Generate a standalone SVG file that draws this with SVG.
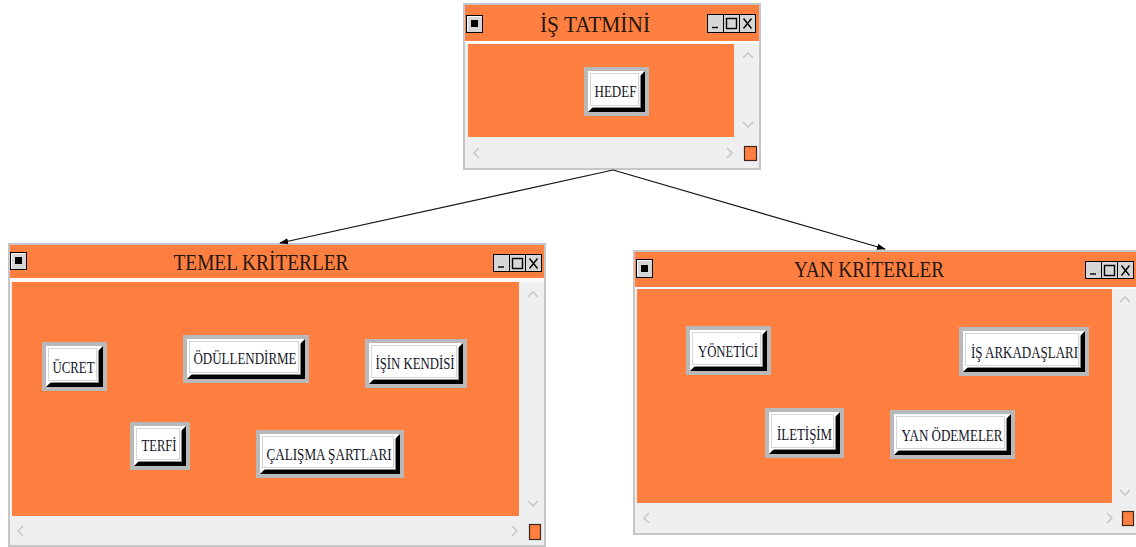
<svg xmlns="http://www.w3.org/2000/svg" width="1136" height="547" viewBox="0 0 1136 547">
  <defs>
    <marker id="arrow" viewBox="0 0 10 10" refX="9" refY="5" markerWidth="9" markerHeight="9" markerUnits="userSpaceOnUse" orient="auto">
      <path d="M0,1.5 L10,5 L0,8.5 z" fill="#000"/>
    </marker>
  </defs>
  <style>
    .frame { fill: #c6c6c6; }
    .win { fill: #efefef; }
    .sep { fill: #fafafa; }
    .orange { fill: #ff7f40; }
    .title { font-family: "Liberation Serif", "Times New Roman", serif; font-size: 24px; fill: #231710; text-anchor: middle; }
    .chev { fill: none; stroke: #c8c8c8; stroke-width: 1.6; }
    .tb-face { fill: #d6d6d6; stroke: #000; stroke-width: 1; }
    .tb-hi { fill: none; stroke: #fff; stroke-width: 1; }
    .tb-glyph { fill: none; stroke: #000; stroke-width: 1.4; }
    .corner { fill: #ff7f40; stroke: #3a2a20; stroke-width: 1.2; }
    .b-frame { fill: #b9b9b9; }
    .b-face { fill: #fff; }
    .b-shadow { fill: #000; }
    .b-mid { fill: none; stroke: #8a8a8a; stroke-width: 1.2; }
    .b-inner { fill: none; stroke: #d6d6d6; stroke-width: 1; }
    .lbl { font-family: "Liberation Serif", "Times New Roman", serif; font-size: 16px; fill: #141428; text-anchor: middle; }
    .conn { fill: none; stroke: #111; stroke-width: 1.2; marker-end: url(#arrow); }
  </style>

  <!-- window: İŞ TATMİNİ -->
  <g id="is-tatmini">
    <rect class="frame" x="463" y="3" width="298" height="167"/>
    <rect class="win" x="465" y="5" width="294" height="163"/>
    <rect class="sep" x="465" y="41" width="294" height="3"/>
    <rect class="orange" x="465" y="5" width="294" height="36"/>
    <rect class="orange" x="468" y="44" width="266" height="93"/>
    <!-- system button -->
    <rect class="tb-face" x="466.5" y="15.5" width="16" height="17"/>
    <polyline class="tb-hi" points="467.5,31 467.5,16.5 481,16.5"/>
    <rect x="471" y="20" width="7" height="7" fill="#000"/>
    <!-- minimize / maximize / close -->
    <rect class="tb-face" x="707.5" y="14.5" width="16" height="18"/>
    <rect class="tb-face" x="723.5" y="14.5" width="16" height="18"/>
    <rect class="tb-face" x="739.5" y="14.5" width="16" height="18"/>
    <line class="tb-glyph" x1="712" y1="27.5" x2="718" y2="27.5" stroke-width="2"/>
    <rect class="tb-glyph" x="726.5" y="18.5" width="10" height="10"/>
    <path class="tb-glyph" d="M743.5,18.5 L751.5,28.5 M751.5,18.5 L743.5,28.5"/>
    <text class="title" x="595" y="32" textLength="110" lengthAdjust="spacingAndGlyphs">İŞ TATMİNİ</text>
    <!-- scrollbars -->
    <polyline class="chev" points="743,58 748,53 753,58"/>
    <polyline class="chev" points="743,122 748,127 753,122"/>
    <polyline class="chev" points="479,148 474,153 479,158"/>
    <polyline class="chev" points="727,148 732,153 727,158"/>
    <rect class="corner" x="744.5" y="146.5" width="12" height="14"/>
  </g>

  <!-- window: TEMEL KRİTERLER -->
  <g id="temel-kriterler">
    <rect class="frame" x="8" y="243" width="538" height="306"/>
    <rect class="win" x="10" y="245" width="534" height="300"/>
    <rect class="sep" x="10" y="278" width="534" height="4"/>
    <rect class="orange" x="10" y="245" width="534" height="33"/>
    <rect class="orange" x="12" y="282" width="507" height="234"/>
    <rect class="tb-face" x="10.5" y="252.5" width="16" height="17"/>
    <polyline class="tb-hi" points="11.5,268 11.5,253.5 25,253.5"/>
    <rect x="15" y="257" width="7" height="7" fill="#000"/>
    <rect class="tb-face" x="493.5" y="254.5" width="16" height="17"/>
    <rect class="tb-face" x="509.5" y="254.5" width="16" height="17"/>
    <rect class="tb-face" x="525.5" y="254.5" width="16" height="17"/>
    <line class="tb-glyph" x1="498" y1="267" x2="504" y2="267" stroke-width="2"/>
    <rect class="tb-glyph" x="512.5" y="258.5" width="10" height="10"/>
    <path class="tb-glyph" d="M529.5,258.5 L537.5,268.5 M537.5,258.5 L529.5,268.5"/>
    <text class="title" x="261" y="270" textLength="175" lengthAdjust="spacingAndGlyphs">TEMEL KRİTERLER</text>
    <polyline class="chev" points="528,297 533,292 538,297"/>
    <polyline class="chev" points="528,501 533,506 538,501"/>
    <polyline class="chev" points="23,526 18,531 23,536"/>
    <polyline class="chev" points="512,526 517,531 512,536"/>
    <rect class="corner" x="529.5" y="524.5" width="11" height="15"/>
  </g>

  <!-- window: YAN KRİTERLER -->
  <g id="yan-kriterler">
    <rect class="frame" x="633" y="250" width="505" height="285"/>
    <rect class="win" x="635" y="252" width="503" height="281"/>
    <rect class="sep" x="635" y="287" width="503" height="2"/>
    <rect class="orange" x="635" y="252" width="503" height="35"/>
    <rect class="orange" x="637" y="289" width="475" height="214"/>
    <rect class="tb-face" x="636.5" y="259.5" width="16" height="18"/>
    <polyline class="tb-hi" points="637.5,276 637.5,260.5 651,260.5"/>
    <rect x="641" y="265" width="7" height="7" fill="#000"/>
    <rect class="tb-face" x="1085.5" y="261.5" width="16" height="17"/>
    <rect class="tb-face" x="1101.5" y="261.5" width="16" height="17"/>
    <rect class="tb-face" x="1117.5" y="261.5" width="16" height="17"/>
    <line class="tb-glyph" x1="1090" y1="274" x2="1096" y2="274" stroke-width="2"/>
    <rect class="tb-glyph" x="1104.5" y="265.5" width="10" height="10"/>
    <path class="tb-glyph" d="M1121.5,265.5 L1129.5,275.5 M1129.5,265.5 L1121.5,275.5"/>
    <text class="title" x="869" y="277" textLength="150" lengthAdjust="spacingAndGlyphs">YAN KRİTERLER</text>
    <polyline class="chev" points="1120,302 1125,297 1130,302"/>
    <polyline class="chev" points="1120,490 1125,495 1130,490"/>
    <polyline class="chev" points="649,513 644,518 649,523"/>
    <polyline class="chev" points="1107,513 1112,518 1107,523"/>
    <rect class="corner" x="1122.5" y="511.5" width="11" height="14"/>
  </g>

  <!-- nodes (3D buttons) -->
  <g id="hedef" transform="translate(584,67)">
    <rect class="b-frame" width="65" height="49"/>
    <rect class="b-face" x="4" y="4" width="57" height="41"/>
    <rect class="b-inner" x="6.5" y="6.5" width="48" height="32"/>
    <polyline class="b-mid" points="56.5,8.5 56.5,40.5 8.5,40.5"/>
    <polygon class="b-shadow" points="61,4 61,45 4,45 8,41 57,41 57,8"/>
    <text class="lbl" x="31.5" y="29.5" textLength="42" lengthAdjust="spacingAndGlyphs">HEDEF</text>
  </g>

  <g id="ucret" transform="translate(42,342)">
    <rect class="b-frame" width="65" height="49"/>
    <rect class="b-face" x="4" y="4" width="57" height="41"/>
    <rect class="b-inner" x="6.5" y="6.5" width="48" height="32"/>
    <polyline class="b-mid" points="56.5,8.5 56.5,40.5 8.5,40.5"/>
    <polygon class="b-shadow" points="61,4 61,45 4,45 8,41 57,41 57,8"/>
    <text class="lbl" x="31.5" y="30.5" textLength="42" lengthAdjust="spacingAndGlyphs">ÜCRET</text>
  </g>

  <g id="odullendirme" transform="translate(183,335)">
    <rect class="b-frame" width="126" height="48"/>
    <rect class="b-face" x="4" y="4" width="118" height="40"/>
    <rect class="b-inner" x="6.5" y="6.5" width="109" height="31"/>
    <polyline class="b-mid" points="117.5,8.5 117.5,39.5 8.5,39.5"/>
    <polygon class="b-shadow" points="122,4 122,44 4,44 8,40 118,40 118,8"/>
    <text class="lbl" x="62" y="29" textLength="103" lengthAdjust="spacingAndGlyphs">ÖDÜLLENDİRME</text>
  </g>

  <g id="isin-kendisi" transform="translate(365,339)">
    <rect class="b-frame" width="102" height="49"/>
    <rect class="b-face" x="4" y="4" width="94" height="41"/>
    <rect class="b-inner" x="6.5" y="6.5" width="85" height="32"/>
    <polyline class="b-mid" points="93.5,8.5 93.5,40.5 8.5,40.5"/>
    <polygon class="b-shadow" points="98,4 98,45 4,45 8,41 94,41 94,8"/>
    <text class="lbl" x="50" y="30" textLength="79" lengthAdjust="spacingAndGlyphs">İŞİN KENDİSİ</text>
  </g>

  <g id="terfi" transform="translate(130,422)">
    <rect class="b-frame" width="60" height="48"/>
    <rect class="b-face" x="4" y="4" width="52" height="40"/>
    <rect class="b-inner" x="6.5" y="6.5" width="43" height="31"/>
    <polyline class="b-mid" points="51.5,8.5 51.5,39.5 8.5,39.5"/>
    <polygon class="b-shadow" points="56,4 56,44 4,44 8,40 52,40 52,8"/>
    <text class="lbl" x="29" y="29" textLength="35" lengthAdjust="spacingAndGlyphs">TERFİ</text>
  </g>

  <g id="calisma-sartlari" transform="translate(256,430)">
    <rect class="b-frame" width="148" height="48"/>
    <rect class="b-face" x="4" y="4" width="140" height="40"/>
    <rect class="b-inner" x="6.5" y="6.5" width="131" height="31"/>
    <polyline class="b-mid" points="139.5,8.5 139.5,39.5 8.5,39.5"/>
    <polygon class="b-shadow" points="144,4 144,44 4,44 8,40 140,40 140,8"/>
    <text class="lbl" x="73" y="29.5" textLength="125" lengthAdjust="spacingAndGlyphs">ÇALIŞMA ŞARTLARI</text>
  </g>

  <g id="yonetici" transform="translate(686,326)">
    <rect class="b-frame" width="85" height="49"/>
    <rect class="b-face" x="4" y="4" width="77" height="41"/>
    <rect class="b-inner" x="6.5" y="6.5" width="68" height="32"/>
    <polyline class="b-mid" points="76.5,8.5 76.5,40.5 8.5,40.5"/>
    <polygon class="b-shadow" points="81,4 81,45 4,45 8,41 77,41 77,8"/>
    <text class="lbl" x="42" y="31" textLength="60" lengthAdjust="spacingAndGlyphs">YÖNETİCİ</text>
  </g>

  <g id="is-arkadaslari" transform="translate(959,327)">
    <rect class="b-frame" width="130" height="49"/>
    <rect class="b-face" x="4" y="4" width="122" height="41"/>
    <rect class="b-inner" x="6.5" y="6.5" width="113" height="32"/>
    <polyline class="b-mid" points="121.5,8.5 121.5,40.5 8.5,40.5"/>
    <polygon class="b-shadow" points="126,4 126,45 4,45 8,41 122,41 122,8"/>
    <text class="lbl" x="65.5" y="30.5" textLength="107" lengthAdjust="spacingAndGlyphs">İŞ ARKADAŞLARI</text>
  </g>

  <g id="iletisim" transform="translate(765,408)">
    <rect class="b-frame" width="79" height="50"/>
    <rect class="b-face" x="4" y="4" width="71" height="42"/>
    <rect class="b-inner" x="6.5" y="6.5" width="62" height="33"/>
    <polyline class="b-mid" points="70.5,8.5 70.5,41.5 8.5,41.5"/>
    <polygon class="b-shadow" points="75,4 75,46 4,46 8,42 71,42 71,8"/>
    <text class="lbl" x="39.5" y="31.5" textLength="55" lengthAdjust="spacingAndGlyphs">İLETİŞİM</text>
  </g>

  <g id="yan-odemeler" transform="translate(890,410)">
    <rect class="b-frame" width="125" height="49"/>
    <rect class="b-face" x="4" y="4" width="117" height="41"/>
    <rect class="b-inner" x="6.5" y="6.5" width="108" height="32"/>
    <polyline class="b-mid" points="116.5,8.5 116.5,40.5 8.5,40.5"/>
    <polygon class="b-shadow" points="121,4 121,45 4,45 8,41 117,41 117,8"/>
    <text class="lbl" x="62" y="30.5" textLength="101" lengthAdjust="spacingAndGlyphs">YAN ÖDEMELER</text>
  </g>

  <!-- connectors -->
  <g id="connectors">
    <line class="conn" x1="613" y1="170" x2="280" y2="243"/>
    <line class="conn" x1="613" y1="170" x2="885" y2="249"/>
  </g>
</svg>
